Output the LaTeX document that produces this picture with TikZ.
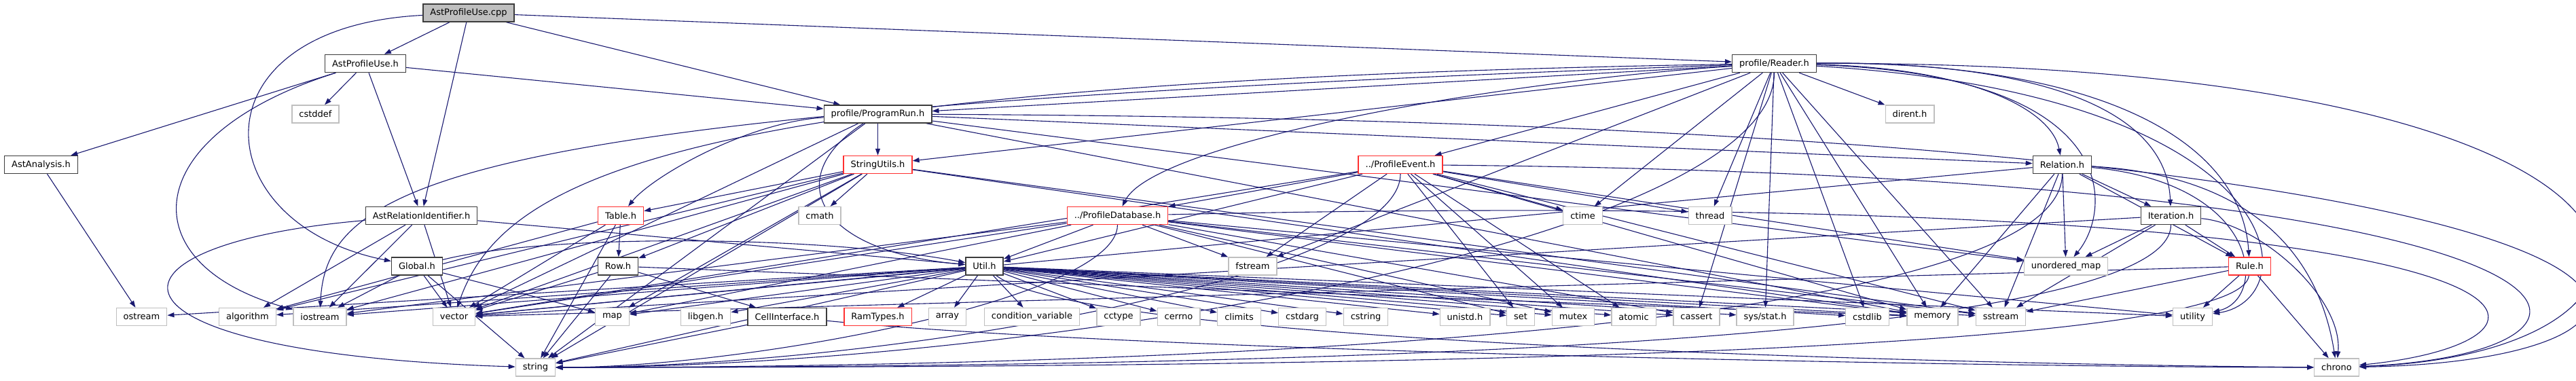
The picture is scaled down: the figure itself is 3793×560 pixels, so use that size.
\documentclass[tikz,border=0pt]{standalone}
\usepackage{fontspec}
\setmainfont{DejaVu Sans}
\usepackage{tikz}
\definecolor{EdgeBlue} {RGB}{25,  25, 112}
\definecolor{BoxGray}  {RGB}{191, 191, 191}
\definecolor{BoxRed}   {RGB}{255,  48,  48}
\definecolor{BoxDark}  {RGB}{60,  60,  60}
\usetikzlibrary{
  arrows.meta,
  backgrounds
}

\begin{document}
\begin{tikzpicture}[
  x=1pt, y=1pt,
  font=\fontsize{13}{15}\selectfont,
  header/.style={
    draw=BoxDark, fill=white, line width=1.4pt,
    minimum height=26pt, inner xsep=10.5pt, inner ysep=0pt
  },
  main/.style={header, fill=BoxGray},
  truncated/.style={header, draw=BoxRed},
  system/.style={header, draw=BoxGray},
  link/.style={draw=EdgeBlue, line width=1.1pt, -{Triangle[length=10pt,width=7pt]}}
]
\useasboundingbox (0,0) rectangle (3793,560);

% Fichier principal
\node[main] (cpp) at (690,541) {AstProfileUse.cpp};

% Niveau 1
\node[header] (apuh)   at (538,466.5)    {AstProfileUse.h};
\node[header] (reader) at (2612.5,466.5) {profile/Reader.h};

% Niveau 2
\node[system] (cstddef) at (464.5,392)  {cstddef};
\node[header] (progrun) at (1292.5,392) {profile/ProgramRun.h};
\node[system] (dirent)  at (2812,392)   {dirent.h};

% Niveau 3
\node[header]    (astanalysis) at (60.5,317.5)   {AstAnalysis.h};
\node[truncated] (strutils)    at (1292.5,317.5) {StringUtils.h};
\node[truncated] (pevent)      at (2062,317.5)   {../ProfileEvent.h};
\node[header]    (relation)    at (3036.5,317.5) {Relation.h};

% Niveau 4
\node[header]    (astrelid)  at (620.5,242.5)  {AstRelationIdentifier.h};
\node[truncated] (table)     at (914,242.5)    {Table.h};
\node[system]    (cmath)     at (1207,242.5)   {cmath};
\node[truncated] (pdb)       at (1645.5,242.5) {../ProfileDatabase.h};
\node[system]    (ctime)     at (2330.5,242.5) {ctime};
\node[system]    (thread)    at (2518,242.5)   {thread};
\node[header]    (iteration) at (3196.5,242.5) {Iteration.h};

% Niveau 5
\node[header]    (global)  at (614,168)    {Global.h};
\node[header]    (row)     at (910,168)    {Row.h};
\node[header]    (util)    at (1449.5,168) {Util.h};
\node[system]    (fstream) at (1844.5,168) {fstream};
\node[system]    (umap)    at (3042,168)   {unordered\_map};
\node[truncated] (rule)    at (3312.5,168) {Rule.h};

% Niveau 6 : en-têtes système
\foreach \n/\x/\t in {ostream/208.5/ostream, algorithm/364.5/algorithm,
  iostream/471/iostream, vector/668.5/vector, map/901.5/map,
  libgen/1039/libgen.h, array/1395/array, condvar/1519.5/condition\_variable,
  cctype/1647/cctype, cerrno/1735.5/cerrno, climits/1824.5/climits,
  cstdarg/1917.5/cstdarg, cstring/2011/cstring, unistd/2157/unistd.h,
  set/2239/set, mutex/2316.5/mutex, atomic/2405.5/atomic,
  cassert/2498/cassert, cstdlib/2749.5/cstdlib, memory/2845.5/memory,
  sstream/2946/sstream, utility/3228.5/utility} {
  \node[system] (\n) at (\x,93.5) {\t};
}
\node[system]    (sysstat)  at (2599,93.5)   {sys/stat.h};
\node[header]    (cellif)   at (1159,93.5)   {CellInterface.h};
\node[truncated] (ramtypes) at (1292.5,93.5) {RamTypes.h};

% Niveau 7
\node[system] (string) at (788.5,19)  {string};
\node[system] (chrono) at (3440.5,19) {chrono};

\begin{scope}[on background layer]
% AstProfileUse.cpp
\foreach \t in {apuh,astrelid,progrun,reader}
  \draw[link] (cpp) -- (\t);
\draw[link] (cpp) .. controls (280,520) and (300,230) .. (global);

% AstProfileUse.h
\foreach \t in {astanalysis,cstddef,astrelid,progrun}
  \draw[link] (apuh) -- (\t);
\draw[link] (apuh) .. controls (200,360) and (190,170) .. (iostream);

% AstAnalysis.h
\draw[link] (astanalysis) -- (ostream);

% AstRelationIdentifier.h
\foreach \t in {util,algorithm,iostream,vector}
  \draw[link] (astrelid) -- (\t);
\draw[link] (astrelid) .. controls (120,200) and (120,40) .. (string);

% Global.h
\foreach \t in {iostream,map,vector,string}
  \draw[link] (global) -- (\t);
\draw[link] (global) .. controls (800,215) and (1200,215) .. (util);

% profile/ProgramRun.h
\foreach \t in {strutils,relation,umap,memory,vector,string}
  \draw[link] (progrun) -- (\t);
\draw[link] (progrun) .. controls (1100,380) and (960,300) .. (table);
\draw[link] (progrun) .. controls (1150,300) and (1200,190) .. (util);
\draw[link] (progrun) .. controls (4090,380) and (4090,30) .. (chrono);

% profile/Reader.h
\foreach \t in {progrun,strutils,pevent,ctime,thread,dirent,cassert,sysstat,
  cstdlib,memory,fstream,sstream}
  \draw[link] (reader) -- (\t);
\draw[link] (reader) .. controls (2200,440) and (1700,350) .. (pdb);
\draw[link] (reader) .. controls (2900,460) and (3020,400) .. (relation);
\draw[link] (reader) .. controls (3000,470) and (3190,400) .. (iteration);
\draw[link] (reader) .. controls (3100,470) and (3300,350) .. (rule);
\draw[link] (reader) .. controls (3130,450) and (3110,250) .. (umap);
\draw[link] (reader) .. controls (1000,440) and (740,300) .. (vector);
\draw[link] (reader) .. controls (700,400) and (480,300) .. (iostream);
\draw[link] (reader) .. controls (3380,420) and (3400,120) .. (utility);
\draw[link] (reader) .. controls (4025,470) and (4025,40) .. (chrono);
\draw[link] (reader) .. controls (2612,200) and (1500,19) .. (string);

% StringUtils.h
\foreach \t in {cmath,table,row,algorithm,iostream,map,memory,sstream,
  vector,string}
  \draw[link] (strutils) -- (\t);

% ../ProfileEvent.h
\foreach \t in {pdb,util,ctime,thread,mutex,set,atomic,memory,sstream,
  umap,fstream,vector}
  \draw[link] (pevent) -- (\t);
\draw[link] (pevent) .. controls (3921,300) and (3921,40) .. (chrono);
\draw[link] (pevent) .. controls (2062,150) and (1300,19) .. (string);

% ../ProfileDatabase.h
\foreach \t in {util,cassert,mutex,set,memory,sstream,utility,fstream,
  map,vector,iostream}
  \draw[link] (pdb) -- (\t);
\draw[link] (pdb) .. controls (3845,290) and (3845,60) .. (chrono);
\draw[link] (pdb) .. controls (1645,120) and (1100,19) .. (string);

% Relation.h
\foreach \t in {iteration,rule,memory,sstream,umap,vector}
  \draw[link] (relation) -- (\t);
\draw[link] (relation) .. controls (3330,290) and (3340,120) .. (utility);
\draw[link] (relation) .. controls (3350,300) and (3420,150) .. (chrono);
\draw[link] (relation) .. controls (3036,60) and (1600,19) .. (string);

% Iteration.h
\foreach \t in {rule,umap,sstream,vector}
  \draw[link] (iteration) -- (\t);
\draw[link] (iteration) .. controls (3330,230) and (3450,120) .. (chrono);
\draw[link] (iteration) .. controls (3196,40) and (1700,19) .. (string);

% Rule.h
\foreach \t in {utility,chrono,sstream,vector}
  \draw[link] (rule) -- (\t);
\draw[link] (rule) .. controls (3300,30) and (1800,19) .. (string);

% Table.h et Row.h
\foreach \t in {row,vector,algorithm,string}
  \draw[link] (table) -- (\t);
\foreach \t in {cellif,vector,string,memory}
  \draw[link] (row) -- (\t);

% CellInterface.h
\draw[link] (cellif) -- (string);
\draw[link] (cellif) .. controls (1700,40) and (3000,19) .. (chrono);

% Util.h
\foreach \t in {ramtypes,array,condvar,cctype,cerrno,climits,cstdarg,cstring,
  unistd,set,mutex,atomic,cassert,sysstat,cstdlib,memory,sstream,utility,
  libgen,vector,map,iostream,algorithm,ostream,string}
  \draw[link] (util) -- (\t);
\draw[link] (util) .. controls (1600,50) and (3000,22) .. (chrono);
\end{scope}
\end{tikzpicture}
\end{document}
